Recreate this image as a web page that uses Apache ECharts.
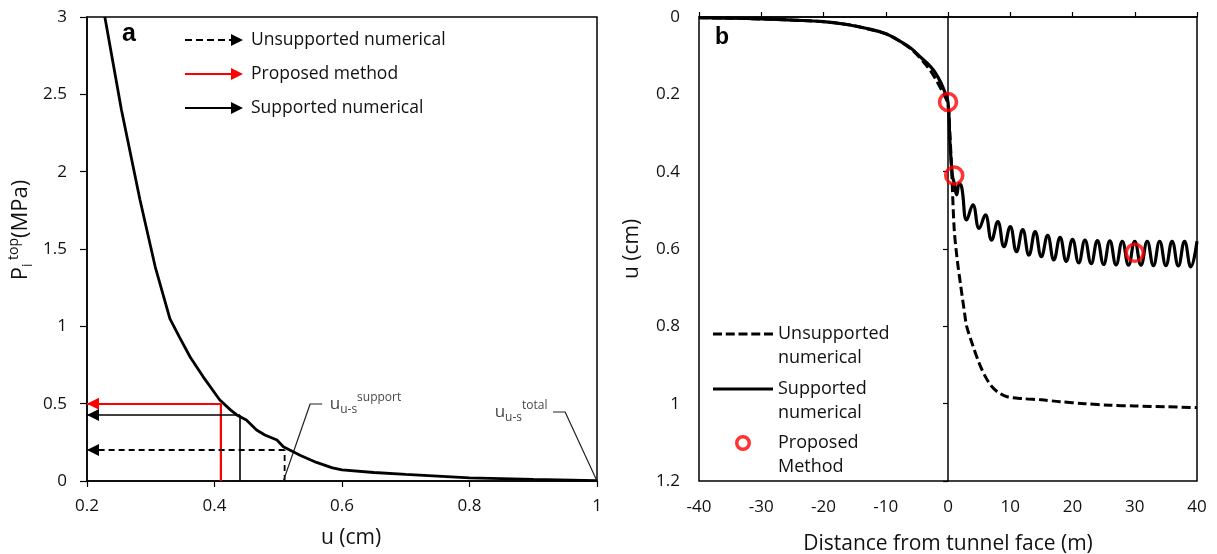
<!DOCTYPE html>
<html><head><meta charset="utf-8">
<script src="https://cdn.jsdelivr.net/npm/echarts@6/dist/echarts.min.js"></script>
<style>html,body{margin:0;padding:0;background:#fff}#c{width:1217px;height:554px}</style>
</head><body><div id="c"></div>
<script>
// ---------- Panel a data ----------
const curveU = [0.228,0.254,0.283,0.307,0.330,0.345,0.362,0.382,0.408,0.425,0.435,0.450,0.466,0.479,0.498,0.508,0.518,0.535,0.560,0.585,0.600,0.650,0.700,0.800,0.900,1.000];
const curveP = [3.000,2.400,1.820,1.385,1.050,0.930,0.800,0.675,0.525,0.460,0.427,0.394,0.330,0.297,0.265,0.222,0.200,0.165,0.120,0.085,0.072,0.055,0.043,0.020,0.010,0.003];
const arrowUnsupported = [0.51, 0.20];   // [u, P]
const arrowProposed    = [0.41, 0.50];
const arrowSupported   = [0.44, 0.427];
const leaderSupport = [[0.508,0.0],[0.550,0.498],[0.569,0.498]];
const leaderTotal   = [[1.000,0.0],[0.950,0.446],[0.931,0.446]];
const legendA = ['Unsupported numerical','Proposed method','Supported numerical'];

// ---------- Panel b data ----------
const distUnsup = [-40,-35,-30,-25,-20,-16,-13,-10,-8,-6,-5,-4,-3,-2,-1,-0.5,0,0.3,0.6,1,1.5,2,2.7,3,4,5,6,7,8,9.5,12,15,18,22,26,30,35,40];
const uUnsup    = [0.002,0.003,0.005,0.008,0.012,0.020,0.030,0.043,0.060,0.082,0.097,0.115,0.135,0.160,0.190,0.205,0.225,0.300,0.400,0.550,0.630,0.690,0.770,0.800,0.850,0.895,0.930,0.955,0.970,0.982,0.987,0.990,0.995,1.000,1.004,1.006,1.008,1.010];
const distSup = [-40,-35,-30,-25,-20,-16,-13,-10,-8,-6,-5,-4,-3,-2,-1,-0.5,0,0.3,0.7,1.0,1.4,1.8,2.2,3,4,5,6,7,8,9,10,11,12,13,14,15,16,17,18,19,20,21,22,23,24,25,26,27,28,29,30,31,32,33,34,35,36,37,38,39,40];
const uSup    = [0.002,0.003,0.005,0.008,0.012,0.020,0.030,0.043,0.060,0.080,0.095,0.110,0.125,0.145,0.175,0.195,0.220,0.320,0.410,0.430,0.460,0.430,0.440,0.525,0.486,0.547,0.512,0.577,0.529,0.594,0.542,0.607,0.550,0.616,0.555,0.620,0.565,0.628,0.570,0.632,0.575,0.636,0.577,0.638,0.578,0.640,0.579,0.641,0.580,0.642,0.580,0.642,0.580,0.643,0.580,0.643,0.580,0.644,0.580,0.646,0.580];
const distProposed = [0, 1, 30];
const uProposed    = [0.22, 0.41, 0.61];

const zip = (a,b)=>a.map((v,i)=>[v,b[i]]);
const FONT = "'Open Sans', sans-serif";
const TXT = '#111';

function arrowSeries(name, pt, color, type, w) {
  return {
    type:'line', name, xAxisIndex:0, yAxisIndex:0, symbol:'none', silent:true,
    itemStyle:{color}, lineStyle:{color, width:w, type},
    data:[[pt[0],0],[pt[0],pt[1]]], z:3,
    markLine:{silent:true, symbol:['none','triangle'], symbolSize:12, symbolOffset:[0,[0,6]], animation:false,
      label:{show:false}, emphasis:{disabled:true},
      lineStyle:{color, width:w, type},
      data:[[{coord:[pt[0],pt[1]]},{coord:[0.2,pt[1]]}]]}
  };
}
const rich = {
  u:{fontSize:17, fontFamily:FONT, color:TXT, lineHeight:24},
  s:{fontSize:12, fontFamily:FONT, color:TXT, lineHeight:12, verticalAlign:'bottom'},
  t:{fontSize:12, fontFamily:FONT, color:TXT, lineHeight:12, verticalAlign:'top'}
};

const chart = echarts.init(document.getElementById('c'), null, {renderer:'canvas'});
const dashArrow = 'path://M0,5h7v2h-7zM11,5h7v2h-7zM22,5h7v2h-7zM33,5h7v2h-7zM44,5h3v2h-3zM46,0L58,6L46,12z';
const solidArrow = 'path://M0,5h48v2h-48zM46,0L58,6L46,12z';
const ring = 'path://M0,7.95h0.05v0.05h-0.05zM59.95,7.95h0.05v0.05h-0.05zM22,8A8,8 0 1,1 38,8A8,8 0 1,1 22,8ZM25.5,8A4.5,4.5 0 1,0 34.5,8A4.5,4.5 0 1,0 25.5,8Z';
const lblStyle = {fontFamily:FONT, fontSize:17, color:TXT};
const nameStyle = {fontFamily:FONT, fontSize:21, color:TXT};
const legB = {orient:'vertical', left:713, itemWidth:60, padding:0, selectedMode:false,
  formatter:n=>'\n'+n, textStyle:{fontFamily:FONT, fontSize:18, color:TXT, lineHeight:24}};

chart.setOption({
  animation:false,
  title:[
    {text:'a', left:122, top:22, padding:0, textStyle:{fontFamily:'Liberation Sans', fontWeight:'bold', fontSize:25, color:'#000'}},
    {text:'b', left:715, top:26, padding:0, textStyle:{fontFamily:'Liberation Sans', fontWeight:'bold', fontSize:23, color:'#000'}}
  ],
  legend:[
    {orient:'vertical', left:185, top:30, padding:0, itemWidth:58, itemHeight:12, itemGap:14, selectedMode:false,
     textStyle:{fontFamily:FONT, fontSize:17.5, color:TXT, lineHeight:20, padding:[0,0,0,3]},
     data:[{name:legendA[0], icon:dashArrow},{name:legendA[1], icon:solidArrow},{name:legendA[2], icon:solidArrow}]},
    {...legB, top:298, itemHeight:3,
     data:[{name:'Unsupported\nnumerical', icon:'path://M0,0h9v3h-9zM12.75,0h9v3h-9zM25.5,0h9v3h-9zM38.25,0h9v3h-9zM51,0h9v3h-9z'}]},
    {...legB, top:353, itemHeight:3,
     data:[{name:'Supported\nnumerical', icon:'path://M0,0h60v3h-60z'}]},
    {...legB, top:407, itemHeight:16, itemStyle:{color:'#ff0000', borderWidth:0},
     data:[{name:'Proposed\nMethod', icon:ring}]}
  ],
  grid:[
    {left:87, top:17, width:510, height:464, outerBoundsMode:'none', containLabel:false, show:true, borderColor:'#000', borderWidth:1.5, backgroundColor:'#fff'},
    {left:699, top:17, width:498, height:464, outerBoundsMode:'none', containLabel:false, show:true, borderColor:'#000', borderWidth:1.5, backgroundColor:'#fff'}
  ],
  xAxis:[
    {gridIndex:0, type:'value', min:0.2, max:1, interval:0.2, position:'bottom',
     name:'u (cm)', nameLocation:'middle', nameGap:47, nameTextStyle:{...nameStyle, padding:[0,0,0,18]},
     axisLine:{onZero:false, lineStyle:{color:'#000', width:1.5}}, axisTick:{show:true, length:6, lineStyle:{color:'#000', width:1.2}},
     axisLabel:{...lblStyle, margin:17}, splitLine:{show:false}},
    {gridIndex:1, type:'value', min:-40, max:40, interval:10, position:'top',
     axisLine:{onZero:false, lineStyle:{color:'#000', width:1.5}}, axisTick:{show:true, length:5, lineStyle:{color:'#000', width:1.2}},
     axisLabel:{show:false}, splitLine:{show:false}},
    {gridIndex:1, type:'value', min:-40, max:40, interval:10, position:'bottom',
     name:'Distance from tunnel face (m)', nameLocation:'middle', nameGap:53, nameTextStyle:nameStyle,
     axisLine:{show:false, onZero:false}, axisTick:{show:false},
     axisLabel:{...lblStyle, margin:18, formatter:v=>String(v)}, splitLine:{show:false}}
  ],
  yAxis:[
    {gridIndex:0, type:'value', min:0, max:3, interval:0.5, position:'left',
     name:'{a|P}{b|i}{c| top}{a|(MPa)}', nameLocation:'middle', nameGap:52, nameRotate:90,
     nameTextStyle:{padding:[0,0,0,38], rich:{a:{fontFamily:FONT, fontSize:22, color:TXT, lineHeight:28},
       b:{fontFamily:FONT, fontSize:14, color:TXT, lineHeight:14, verticalAlign:'bottom'},
       c:{fontFamily:FONT, fontSize:14, color:TXT, lineHeight:14, verticalAlign:'top'}}},
     axisLine:{onZero:false, lineStyle:{color:'#000', width:1.5}}, axisTick:{show:true, length:7, lineStyle:{color:'#000', width:1.2}},
     axisLabel:{...lblStyle, margin:20}, splitLine:{show:false}},
    {gridIndex:1, type:'value', min:0, max:1.2, interval:0.2, inverse:true, position:'left',
     axisLine:{onZero:true, onZeroAxisIndex:1, lineStyle:{color:'#000', width:1.5}}, axisTick:{show:true, length:5, lineStyle:{color:'#000', width:1.2}},
     axisLabel:{show:false}, splitLine:{show:false}},
    {gridIndex:1, type:'value', min:0, max:1.2, interval:0.2, inverse:true, position:'left',
     name:'u (cm)', nameLocation:'middle', nameGap:56, nameRotate:90, nameTextStyle:nameStyle,
     axisLine:{show:false, onZero:false}, axisTick:{show:false},
     axisLabel:{...lblStyle, margin:19}, splitLine:{show:false}}
  ],
  series:[
    arrowSeries(legendA[0], arrowUnsupported, '#000', [6,4], 1.8),
    arrowSeries(legendA[1], arrowProposed, '#ff0000', 'solid', 2.2),
    arrowSeries(legendA[2], arrowSupported, '#000', 'solid', 1.6),
    {type:'line', name:'curve', xAxisIndex:0, yAxisIndex:0, symbol:'none', silent:true, z:5,
     lineStyle:{color:'#000', width:2.8}, data:zip(curveU, curveP)},
    {type:'line', name:'leader1', xAxisIndex:0, yAxisIndex:0, symbol:'none', silent:true,
     lineStyle:{color:'#222', width:1.2}, data:leaderSupport},
    {type:'line', name:'leader2', xAxisIndex:0, yAxisIndex:0, symbol:'none', silent:true,
     lineStyle:{color:'#222', width:1.2}, data:leaderTotal},
    {type:'scatter', name:'annot', xAxisIndex:0, yAxisIndex:0, symbolSize:1, silent:true,
     itemStyle:{color:'rgba(0,0,0,0)'},
     data:[
       {value:leaderSupport[2], label:{show:true, position:'right', distance:7, formatter:'{u|u}{s|u-s}{t|support}', rich}},
       {value:leaderTotal[2], label:{show:true, position:'left', distance:5, formatter:'{u|u}{s|u-s}{t|total}', rich}}
     ]},
    {type:'line', name:'Unsupported\nnumerical', xAxisIndex:1, yAxisIndex:1, symbol:'none', smooth:0.3, silent:true, z:3,
     itemStyle:{color:'#000'}, lineStyle:{color:'#000', width:3, type:[9,4]}, data:zip(distUnsup, uUnsup)},
    {type:'line', name:'Supported\nnumerical', xAxisIndex:1, yAxisIndex:1, symbol:'none', smooth:0.45, silent:true, z:4,
     itemStyle:{color:'#000'}, lineStyle:{color:'#000', width:3.2}, data:zip(distSup, uSup)},
    {type:'scatter', name:'Proposed\nMethod', xAxisIndex:1, yAxisIndex:1, symbol:'circle', symbolSize:17, silent:true, z:6,
     itemStyle:{color:'rgba(255,255,255,0)', borderColor:'#ff0000', borderWidth:3.5}, data:zip(distProposed, uProposed)}
  ]
});
</script></body></html>
